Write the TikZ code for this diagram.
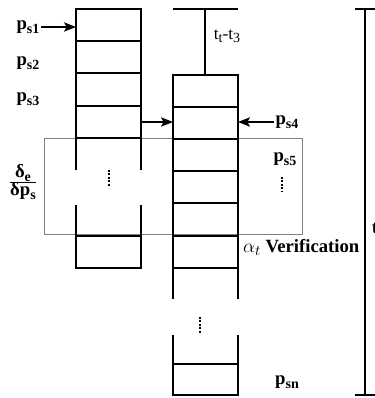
\documentclass[tikz,border=0pt]{standalone}
\usepackage{fontspec}
\setmainfont{Liberation Serif}
\newfontfamily\tnr{Liberation Serif}
\usetikzlibrary{arrows.meta}
\newcommand{\psub}[2]{#1\raisebox{-0.45ex}{\fontsize{10.5}{11}\selectfont #2}}
\begin{document}
\begin{tikzpicture}[x=0.75pt, y=-0.75pt, line width=1.1pt,
  lbl/.style={font=\tnr\fontsize{14}{16}\selectfont\bfseries, inner sep=1pt},
  arr/.style={-{Stealth[length=9pt, width=7pt, inset=2pt]}},
  vdots/.style={line width=1.7pt, dash pattern=on 1.4pt off 1.2pt}]
  \useasboundingbox (0,0) rectangle (374,398);
  % verification window
  \draw[gray, line width=0.6pt] (44,138) rectangle (302,234);
  % left stack
  \draw (76,170) -- (76,9) -- (141,9) -- (141,170);
  \foreach \y in {41,73,106,138} \draw (76,\y) -- (141,\y);
  \draw (76,205) -- (76,268) -- (141,268) -- (141,205);
  \draw (76,236) -- (141,236);
  \draw[vdots] (109,170) -- (109,186);
  % right stack
  \draw (173,9) -- (238,9);
  \draw (205,9) -- (205,75);
  \draw (173,299) -- (173,75) -- (238,75) -- (238,299);
  \foreach \y in {107,139,171,203,236,268} \draw (173,\y) -- (238,\y);
  \draw (173,335) -- (173,395) -- (238,395) -- (238,335);
  \draw (173,364) -- (238,364);
  \draw[vdots] (200,317) -- (200,333);
  \draw[vdots] (282,177) -- (282,192);
  % time bracket
  \draw (365,9) -- (365,395);
  \draw (355,9) -- (375,9);
  \draw (355,395) -- (375,395);
  % labels
  \node[lbl] (ps1) at (28,27) {\psub{p}{s1}};
  \node[lbl] (ps2) at (28,63) {\psub{p}{s2}};
  \node[lbl] (ps3) at (28,99) {\psub{p}{s3}};
  \node[lbl] (ps4) at (287,122) {\psub{p}{s4}};
  \node[lbl] (ps5) at (285,159) {\psub{p}{s5}};
  \node[lbl] (psn) at (287,382) {\psub{p}{sn}};
  \node[font=\tnr\fontsize{13}{15}\selectfont, inner sep=1pt] (tt) at (227,36) {\psub{t}{t}-\psub{t}{3}};
  \node[lbl] (frac) at (23,182) {$\frac{\mbox{\tnr\bfseries\psub{δ}{e}}}{\mbox{\tnr\bfseries δ\psub{p}{s}}}$};
  \node[lbl, anchor=west] (verif) at (241,247) {{\fontsize{15}{17}\selectfont$\alpha_t$} Verification};
  \node[lbl] (tlab) at (375,228) {t};
  % arrows
  \coordinate (in1) at (76,27);
  \coordinate (out1) at (141,122);
  \coordinate (in2) at (173,122);
  \coordinate (in4) at (238,122);
  \draw[arr] (ps1.east) -- (in1);
  \draw[arr] (out1) -- (in2);
  \draw[arr] (ps4.west) -- (in4);
\end{tikzpicture}
\end{document}
